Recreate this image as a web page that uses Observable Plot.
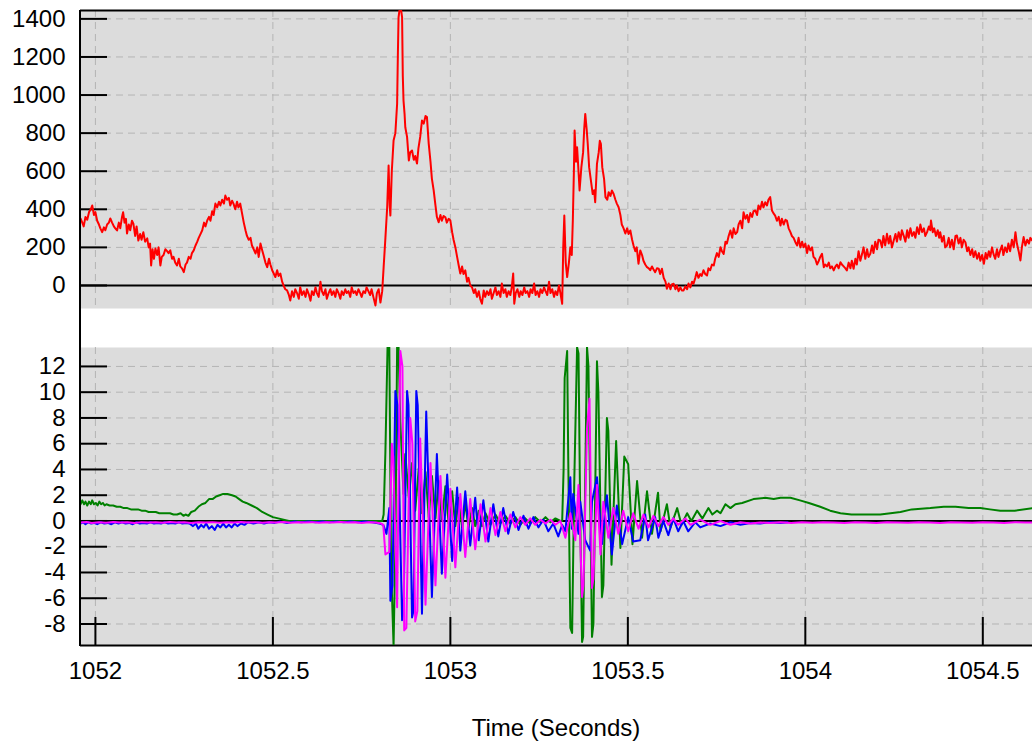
<!DOCTYPE html>
<html>
<head>
<meta charset="utf-8">
<script src="https://cdn.jsdelivr.net/npm/d3@7"></script>
<script src="https://cdn.jsdelivr.net/npm/@observablehq/plot@0.6"></script>
<style>
  body { margin: 0; background: #fff; }
  #wrap { position: relative; width: 1032px; height: 742px; font-family: "Liberation Sans", Arial, sans-serif; color: #000; }
  #top, #bottom { position: absolute; left: 0; }
  #top { top: 0; }
  #bottom { top: 337px; }
  #spine { position: absolute; left: 79px; top: 10px; width: 2px; height: 636px; background: #000; z-index: 5; }
  #xlabel { position: absolute; left: 80px; width: 952px; top: 716px; text-align: center; font-size: 24px; line-height: 1; }
</style>
</head>
<body>
<div id="wrap">
  <div id="top"></div>
  <div id="bottom"></div>
  <div id="spine"></div>
  <div id="xlabel">Time (Seconds)</div>
</div>
<script>
// ---- Tick labels / domains ----
const timeTicks = [1052, 1052.5, 1053, 1053.5, 1054, 1054.5];
const topTicks = [0, 200, 400, 600, 800, 1000, 1200, 1400];
const bottomTicks = [-8, -6, -4, -2, 0, 2, 4, 6, 8, 10, 12];
const timeDomain = [1051.958, 1054.64];
const topDomain = [-121, 1444];
const bottomDomain = [-9.67, 13.47];

// ---- Top series (red), [time, value] ----
const redSeries = [
[1051.958,352],[1051.963,330],[1051.967,310],[1051.972,360],[1051.977,345],[1051.982,385],[1051.987,400],[1051.991,420],[1051.996,370],[1052.000,385],
[1052.005,340],[1052.010,320],[1052.014,300],[1052.019,280],[1052.024,305],[1052.028,290],[1052.033,320],[1052.038,330],[1052.042,352],[1052.047,330],
[1052.052,310],[1052.056,300],[1052.061,289],[1052.066,330],[1052.070,300],[1052.075,360],[1052.078,385],[1052.082,330],[1052.086,350],[1052.089,273],
[1052.094,320],[1052.098,290],[1052.103,340],[1052.107,325],[1052.112,260],[1052.116,310],[1052.121,236],[1052.126,270],[1052.130,240],[1052.135,280],
[1052.140,230],[1052.146,247],[1052.150,200],[1052.154,220],[1052.157,105],[1052.161,190],[1052.165,140],[1052.169,194],[1052.174,160],[1052.178,200],
[1052.183,105],[1052.187,150],[1052.192,160],[1052.197,190],[1052.202,180],[1052.206,170],[1052.211,184],[1052.216,140],[1052.220,150],[1052.225,120],
[1052.230,105],[1052.235,140],[1052.239,100],[1052.244,90],[1052.249,70],[1052.254,110],[1052.258,120],[1052.263,150],[1052.268,140],[1052.272,170],
[1052.277,184],[1052.282,210],[1052.287,230],[1052.291,250],[1052.296,270],[1052.301,290],[1052.306,330],[1052.310,310],[1052.315,341],[1052.320,360],
[1052.324,340],[1052.329,390],[1052.333,370],[1052.338,430],[1052.343,410],[1052.348,440],[1052.352,420],[1052.357,450],[1052.362,430],[1052.366,472],
[1052.371,450],[1052.376,460],[1052.380,420],[1052.385,445],[1052.389,430],[1052.394,400],[1052.399,440],[1052.403,410],[1052.408,430],[1052.413,380],
[1052.418,330],[1052.423,289],[1052.427,260],[1052.432,240],[1052.437,250],[1052.441,210],[1052.446,190],[1052.451,168],[1052.456,200],[1052.460,150],
[1052.465,220],[1052.470,184],[1052.475,150],[1052.479,120],[1052.484,96],[1052.489,140],[1052.493,110],[1052.498,80],[1052.503,60],[1052.507,44],
[1052.512,80],[1052.516,50],[1052.521,63],[1052.526,20],[1052.530,0],[1052.535,-20],[1052.540,-26],[1052.545,-50],[1052.549,-79],[1052.554,-30],
[1052.559,-60],[1052.563,-20],[1052.568,-40],[1052.573,-70],[1052.577,-9],[1052.582,-50],[1052.587,-30],[1052.592,-60],[1052.596,-20],[1052.601,-45],
[1052.606,-80],[1052.610,-30],[1052.615,-50],[1052.620,-10],[1052.624,-40],[1052.629,-60],[1052.634,20],[1052.638,-30],[1052.643,-50],[1052.648,-20],
[1052.652,-70],[1052.657,-40],[1052.662,-20],[1052.666,-50],[1052.671,-30],[1052.676,-60],[1052.680,-20],[1052.685,-40],[1052.690,-70],[1052.694,-30],
[1052.699,-50],[1052.704,-20],[1052.708,-40],[1052.713,-30],[1052.718,-60],[1052.722,-10],[1052.727,-40],[1052.732,-30],[1052.736,-50],[1052.741,-20],
[1052.746,-40],[1052.750,-60],[1052.755,-30],[1052.760,-40],[1052.764,-10],[1052.769,-30],[1052.774,-50],[1052.778,-20],[1052.783,-60],[1052.789,-105],
[1052.793,-40],[1052.798,-20],[1052.803,-90],[1052.808,-30],[1052.812,96],[1052.817,250],[1052.822,411],[1052.826,630],[1052.829,420],[1052.831,367],
[1052.835,600],[1052.840,761],[1052.845,800],[1052.850,954],[1052.852,1200],[1052.854,1408],[1052.857,1450],[1052.859,1460],[1052.861,1450],[1052.864,1408],
[1052.866,1100],[1052.868,971],[1052.871,900],[1052.873,831],[1052.878,780],[1052.883,656],[1052.887,700],[1052.892,709],[1052.897,660],[1052.901,680],
[1052.906,640],[1052.910,720],[1052.915,780],[1052.920,866],[1052.925,850],[1052.930,890],[1052.934,884],[1052.939,745],[1052.944,650],[1052.948,560],
[1052.953,499],[1052.958,420],[1052.962,360],[1052.967,332],[1052.972,370],[1052.976,340],[1052.981,365],[1052.986,358],[1052.990,330],[1052.995,350],
[1053.000,341],[1053.005,280],[1053.009,240],[1053.014,201],[1053.019,150],[1053.023,110],[1053.028,63],[1053.033,100],[1053.037,60],[1053.042,79],
[1053.047,20],[1053.051,40],[1053.056,0],[1053.061,-9],[1053.066,-40],[1053.070,-20],[1053.075,-60],[1053.080,-30],[1053.084,-70],[1053.089,-96],
[1053.094,-26],[1053.098,-60],[1053.103,-30],[1053.108,-50],[1053.113,-20],[1053.117,-70],[1053.122,-40],[1053.127,-10],[1053.131,-50],[1053.136,-30],
[1053.141,-60],[1053.145,10],[1053.150,-40],[1053.155,-20],[1053.159,-60],[1053.164,-30],[1053.169,-50],[1053.173,-10],[1053.177,63],[1053.180,-96],
[1053.184,-40],[1053.189,-20],[1053.194,-60],[1053.198,-30],[1053.203,-50],[1053.208,-10],[1053.212,-40],[1053.217,-30],[1053.222,-60],[1053.226,-20],
[1053.231,-40],[1053.236,10],[1053.240,-50],[1053.245,-30],[1053.250,-60],[1053.254,-20],[1053.259,-40],[1053.264,-10],[1053.268,-30],[1053.273,-50],
[1053.278,20],[1053.282,-40],[1053.287,-20],[1053.292,-60],[1053.296,-30],[1053.301,-50],[1053.306,0],[1053.310,-40],[1053.315,-96],[1053.318,200],
[1053.321,367],[1053.325,120],[1053.329,44],[1053.334,120],[1053.338,201],[1053.342,160],[1053.345,341],[1053.348,600],[1053.350,814],[1053.354,650],
[1053.357,726],[1053.361,600],[1053.364,499],[1053.369,620],[1053.374,700],[1053.377,820],[1053.380,901],[1053.384,820],[1053.387,744],[1053.391,620],
[1053.396,551],[1053.401,480],[1053.405,500],[1053.408,437],[1053.413,639],[1053.418,700],[1053.421,760],[1053.424,744],[1053.428,620],[1053.433,560],
[1053.437,464],[1053.442,450],[1053.446,490],[1053.451,470],[1053.455,499],[1053.460,480],[1053.465,450],[1053.469,430],[1053.474,411],[1053.479,370],
[1053.483,320],[1053.488,300],[1053.493,273],[1053.498,300],[1053.502,270],[1053.507,289],[1053.512,240],[1053.516,210],[1053.521,180],[1053.525,200],
[1053.530,114],[1053.535,184],[1053.540,160],[1053.544,130],[1053.549,110],[1053.554,96],[1053.559,90],[1053.563,80],[1053.568,100],[1053.572,85],
[1053.577,70],[1053.582,90],[1053.587,88],[1053.591,60],[1053.596,88],[1053.601,40],[1053.606,20],[1053.610,-17],[1053.615,10],[1053.620,-20],
[1053.624,5],[1053.629,9],[1053.634,-20],[1053.638,0],[1053.643,-30],[1053.648,-10],[1053.652,-26],[1053.657,-26],[1053.662,-5],[1053.667,-20],
[1053.671,10],[1053.676,-10],[1053.681,20],[1053.685,9],[1053.690,40],[1053.694,70],[1053.699,40],[1053.704,60],[1053.708,50],[1053.713,80],
[1053.718,60],[1053.723,52],[1053.727,90],[1053.732,80],[1053.737,110],[1053.742,105],[1053.746,140],[1053.751,170],[1053.756,150],[1053.761,201],
[1053.765,180],[1053.770,166],[1053.775,230],[1053.779,220],[1053.784,260],[1053.789,289],[1053.794,250],[1053.798,300],[1053.803,270],[1053.808,280],
[1053.812,320],[1053.817,340],[1053.822,300],[1053.826,385],[1053.831,350],[1053.836,370],[1053.840,332],[1053.845,380],[1053.850,360],[1053.854,390],
[1053.859,394],[1053.864,370],[1053.868,420],[1053.873,400],[1053.878,440],[1053.882,410],[1053.887,437],[1053.892,420],[1053.896,450],[1053.901,464],
[1053.906,394],[1053.910,380],[1053.915,367],[1053.920,340],[1053.925,360],[1053.930,315],[1053.934,350],[1053.939,320],[1053.944,345],[1053.948,341],
[1053.953,300],[1053.958,280],[1053.962,260],[1053.967,250],[1053.972,227],[1053.977,210],[1053.981,250],[1053.986,200],[1053.991,230],[1053.995,201],
[1054.000,220],[1054.005,170],[1054.009,210],[1054.014,184],[1054.019,200],[1054.023,150],[1054.028,140],[1054.033,110],[1054.038,130],[1054.042,150],
[1054.047,166],[1054.052,96],[1054.056,110],[1054.061,100],[1054.066,120],[1054.070,90],[1054.075,100],[1054.080,79],[1054.085,100],[1054.089,110],
[1054.094,90],[1054.099,122],[1054.103,110],[1054.108,100],[1054.113,90],[1054.117,79],[1054.122,120],[1054.127,90],[1054.131,130],[1054.136,88],
[1054.141,140],[1054.145,110],[1054.150,180],[1054.155,130],[1054.160,166],[1054.164,200],[1054.169,140],[1054.174,190],[1054.178,150],[1054.183,166],
[1054.188,210],[1054.192,170],[1054.197,230],[1054.202,190],[1054.206,240],[1054.211,236],[1054.216,200],[1054.220,260],[1054.225,210],[1054.230,271],
[1054.235,220],[1054.239,260],[1054.244,200],[1054.249,236],[1054.254,270],[1054.258,230],[1054.263,280],[1054.268,240],[1054.272,290],[1054.277,262],
[1054.282,230],[1054.287,290],[1054.291,250],[1054.296,300],[1054.301,260],[1054.306,280],[1054.310,250],[1054.315,306],[1054.320,270],[1054.324,320],
[1054.329,280],[1054.334,300],[1054.338,260],[1054.343,280],[1054.348,310],[1054.352,290],[1054.354,341],[1054.359,280],[1054.363,300],[1054.368,260],
[1054.373,290],[1054.377,250],[1054.380,280],[1054.385,230],[1054.390,260],[1054.394,200],[1054.399,210],[1054.404,250],[1054.408,200],[1054.413,240],
[1054.418,190],[1054.423,260],[1054.427,262],[1054.432,220],[1054.437,250],[1054.441,200],[1054.446,240],[1054.451,227],[1054.456,180],[1054.460,200],
[1054.465,160],[1054.470,190],[1054.474,149],[1054.479,180],[1054.484,140],[1054.489,170],[1054.493,130],[1054.498,160],[1054.503,114],[1054.508,170],
[1054.512,140],[1054.517,180],[1054.521,150],[1054.526,200],[1054.530,166],[1054.535,140],[1054.540,190],[1054.544,150],[1054.549,184],[1054.554,210],
[1054.558,160],[1054.563,200],[1054.568,175],[1054.572,220],[1054.577,180],[1054.582,240],[1054.587,200],[1054.592,280],[1054.596,220],[1054.601,180],
[1054.606,131],[1054.610,200],[1054.615,254],[1054.620,210],[1054.625,240],[1054.630,220],[1054.634,250],[1054.639,236],[1054.644,240]
];

// ---- Bottom series, [time, value] ----
const greenSeries = [
[1051.958,1.3],[1051.963,1.6],[1051.968,1.3],[1051.972,1.5],[1051.977,1.2],[1051.982,1.5],[1051.987,1.3],[1051.991,1.6],[1051.996,1.3],[1052.001,1.4],
[1052.006,1.2],[1052.011,1.5],[1052.016,1.3],[1052.021,1.4],[1052.026,1.2],[1052.031,1.3],[1052.040,1.2],[1052.050,1.2],[1052.060,1.1],[1052.070,1.1],
[1052.080,1.0],[1052.090,1.0],[1052.100,0.9],[1052.110,0.9],[1052.120,0.9],[1052.130,0.8],[1052.140,0.8],[1052.150,0.7],[1052.160,0.7],[1052.170,0.7],
[1052.180,0.6],[1052.190,0.6],[1052.200,0.6],[1052.210,0.6],[1052.220,0.5],[1052.230,0.5],[1052.240,0.6],[1052.248,0.4],[1052.254,0.5],[1052.262,0.4],
[1052.270,0.7],[1052.280,0.8],[1052.290,1.1],[1052.300,1.3],[1052.310,1.4],[1052.320,1.7],[1052.330,1.7],[1052.340,1.9],[1052.350,2.0],[1052.360,2.1],
[1052.372,2.1],[1052.385,2.0],[1052.395,1.9],[1052.405,1.7],[1052.415,1.5],[1052.425,1.4],[1052.440,1.2],[1052.455,1.0],[1052.470,0.7],[1052.485,0.5],
[1052.500,0.3],[1052.515,0.2],[1052.530,0.1],[1052.545,0.0],[1052.600,0.0],[1052.650,0.0],[1052.700,0.0],[1052.750,0.0],[1052.808,0.0],[1052.812,0.5],
[1052.817,5.4],[1052.823,13.5],[1052.828,13.5],[1052.833,-3.6],[1052.840,-9.7],[1052.845,-2.0],[1052.850,13.5],[1052.854,13.5],[1052.859,7.7],[1052.868,2.1],
[1052.873,5.2],[1052.883,1.8],[1052.892,4.5],[1052.901,0.8],[1052.911,4.1],[1052.920,0.6],[1052.930,3.8],[1052.939,0.3],[1052.948,3.5],[1052.958,0.2],
[1052.967,3.1],[1052.976,0.1],[1052.986,2.7],[1052.995,-0.2],[1053.005,2.3],[1053.014,-0.4],[1053.023,1.8],[1053.033,-0.5],[1053.042,1.4],[1053.051,-0.5],
[1053.061,1.0],[1053.070,-0.4],[1053.080,0.8],[1053.089,-0.4],[1053.099,0.6],[1053.113,-0.3],[1053.127,0.5],[1053.141,-0.2],[1053.155,0.4],[1053.169,-0.2],
[1053.183,0.3],[1053.197,-0.3],[1053.211,0.2],[1053.225,-0.2],[1053.239,0.3],[1053.254,-0.1],[1053.268,0.3],[1053.282,-0.1],[1053.296,0.2],[1053.310,0.0],
[1053.315,0.0],[1053.319,4.0],[1053.322,11.1],[1053.329,13.2],[1053.332,5.0],[1053.338,-8.3],[1053.343,-8.7],[1053.349,3.0],[1053.357,13.5],[1053.361,13.0],
[1053.366,0.0],[1053.371,-9.4],[1053.374,-9.0],[1053.385,13.5],[1053.389,12.0],[1053.399,-9.0],[1053.403,-8.0],[1053.413,12.4],[1053.417,10.0],[1053.427,-5.9],
[1053.431,-5.0],[1053.441,8.0],[1053.445,7.0],[1053.454,-3.4],[1053.467,6.2],[1053.479,-2.1],[1053.490,5.0],[1053.501,4.4],[1053.513,-1.8],[1053.526,3.1],
[1053.540,-1.3],[1053.554,2.3],[1053.568,-1.0],[1053.585,2.2],[1053.592,-0.8],[1053.610,1.3],[1053.620,-0.5],[1053.639,1.0],[1053.651,-0.3],[1053.667,0.6],
[1053.679,0.0],[1053.695,0.8],[1053.710,0.2],[1053.727,1.0],[1053.738,0.5],[1053.751,0.8],[1053.761,0.6],[1053.775,1.3],[1053.789,1.0],[1053.803,1.3],
[1053.822,1.4],[1053.854,1.7],[1053.887,1.8],[1053.911,1.7],[1053.930,1.8],[1053.958,1.8],[1053.985,1.6],[1054.010,1.4],[1054.042,1.1],[1054.070,0.8],
[1054.099,0.6],[1054.130,0.5],[1054.160,0.5],[1054.211,0.5],[1054.240,0.6],[1054.268,0.7],[1054.300,0.9],[1054.352,1.0],[1054.390,1.1],[1054.423,1.1],
[1054.460,1.0],[1054.493,1.0],[1054.520,0.9],[1054.549,0.8],[1054.590,0.8],[1054.640,1.0]
];

const blueSeries = [
[1051.958,-0.2],[1051.965,-0.1],[1051.972,-0.25],[1051.980,-0.1],[1051.988,-0.2],[1051.996,-0.15],[1052.005,-0.25],[1052.015,-0.1],[1052.025,-0.2],[1052.035,-0.15],
[1052.045,-0.25],[1052.055,-0.1],[1052.065,-0.2],[1052.075,-0.1],[1052.085,-0.2],[1052.095,-0.15],[1052.105,-0.25],[1052.115,-0.1],[1052.125,-0.2],[1052.135,-0.15],
[1052.145,-0.2],[1052.155,-0.1],[1052.165,-0.2],[1052.175,-0.15],[1052.185,-0.2],[1052.195,-0.1],[1052.205,-0.2],[1052.215,-0.15],[1052.225,-0.2],[1052.235,-0.1],
[1052.245,-0.2],[1052.255,-0.15],[1052.265,-0.2],[1052.275,-0.4],[1052.283,-0.2],[1052.290,-0.6],[1052.298,-0.3],[1052.305,-0.5],[1052.312,-0.2],[1052.320,-0.6],
[1052.328,-0.4],[1052.336,-0.7],[1052.344,-0.3],[1052.352,-0.5],[1052.360,-0.2],[1052.368,-0.5],[1052.376,-0.3],[1052.384,-0.5],[1052.392,-0.2],[1052.400,-0.4],
[1052.410,-0.2],[1052.420,-0.3],[1052.430,-0.1],[1052.445,-0.2],[1052.460,-0.1],[1052.475,-0.2],[1052.490,-0.1],[1052.505,-0.15],[1052.520,-0.05],[1052.540,-0.15],
[1052.560,-0.05],[1052.580,-0.1],[1052.600,-0.05],[1052.620,-0.1],[1052.640,-0.05],[1052.660,-0.1],[1052.680,-0.05],[1052.700,-0.1],[1052.720,-0.05],[1052.740,-0.1],
[1052.760,-0.05],[1052.780,-0.1],[1052.800,-0.2],[1052.811,-0.3],[1052.820,-1.0],[1052.828,1.0],[1052.831,-6.2],[1052.837,-5.0],[1052.845,10.1],[1052.851,9.0],
[1052.864,-7.7],[1052.868,-7.0],[1052.878,10.1],[1052.882,9.0],[1052.892,-7.5],[1052.896,-7.0],[1052.904,10.1],[1052.908,9.0],[1052.920,-7.2],[1052.932,8.5],
[1052.948,-5.9],[1052.962,5.2],[1052.976,-4.1],[1052.991,3.6],[1053.005,-3.1],[1053.019,2.6],[1053.028,-2.3],[1053.042,2.3],[1053.056,-1.9],[1053.070,1.8],
[1053.080,-1.5],[1053.093,1.6],[1053.107,-1.6],[1053.121,1.3],[1053.135,-1.2],[1053.149,1.0],[1053.163,-1.0],[1053.177,0.7],[1053.192,-0.7],[1053.206,0.4],
[1053.220,-0.6],[1053.234,0.3],[1053.248,-0.5],[1053.262,0.1],[1053.276,-0.8],[1053.290,-0.2],[1053.304,-1.2],[1053.315,-0.3],[1053.324,-0.8],[1053.338,3.4],
[1053.342,-0.6],[1053.346,2.1],[1053.361,-1.0],[1053.366,1.5],[1053.380,-1.5],[1053.394,-2.3],[1053.399,1.5],[1053.413,3.4],[1053.427,-1.8],[1053.441,2.0],
[1053.455,-2.6],[1053.469,1.2],[1053.484,-1.8],[1053.501,0.3],[1053.515,-1.6],[1053.535,-1.5],[1053.549,0.5],[1053.557,-1.5],[1053.577,0.3],[1053.586,-1.3],
[1053.600,0.0],[1053.614,-1.1],[1053.628,0.2],[1053.642,-0.8],[1053.656,0.0],[1053.670,-0.8],[1053.690,-0.1],[1053.704,-0.5],[1053.732,-0.2],[1053.761,-0.4],
[1053.789,-0.1],[1053.817,-0.3],[1053.845,-0.15],[1053.873,-0.2],[1053.900,-0.1],[1053.930,-0.15],[1053.950,-0.1]
];

const magentaSeries = [
[1051.958,-0.12],[1051.975,-0.08],[1051.990,-0.15],[1052.010,-0.1],[1052.030,-0.14],[1052.050,-0.08],[1052.070,-0.12],[1052.090,-0.1],[1052.110,-0.15],[1052.130,-0.09],
[1052.150,-0.12],[1052.170,-0.1],[1052.190,-0.14],[1052.210,-0.08],[1052.230,-0.12],[1052.250,-0.1],[1052.270,-0.15],[1052.290,-0.1],[1052.310,-0.12],[1052.330,-0.09],
[1052.350,-0.14],[1052.370,-0.1],[1052.390,-0.12],[1052.410,-0.08],[1052.430,-0.12],[1052.450,-0.1],[1052.470,-0.14],[1052.490,-0.1],[1052.510,-0.12],[1052.530,-0.08],
[1052.550,-0.13],[1052.570,-0.1],[1052.590,-0.12],[1052.610,-0.09],[1052.630,-0.14],[1052.650,-0.1],[1052.670,-0.12],[1052.690,-0.08],[1052.710,-0.12],[1052.730,-0.1],
[1052.750,-0.15],[1052.770,-0.1],[1052.790,-0.12],[1052.805,-0.2],[1052.811,-0.3],[1052.817,-2.6],[1052.828,-2.4],[1052.835,6.0],[1052.839,5.0],[1052.850,-6.7],
[1052.854,3.0],[1052.859,13.2],[1052.865,12.0],[1052.870,-8.5],[1052.876,-8.3],[1052.887,8.0],[1052.893,6.0],[1052.901,-7.8],[1052.907,-7.0],[1052.915,6.4],
[1052.930,-6.5],[1052.944,4.5],[1052.958,-5.0],[1052.972,3.5],[1052.986,-4.4],[1053.000,2.5],[1053.014,-3.6],[1053.028,2.1],[1053.042,-2.8],[1053.056,1.7],
[1053.070,-2.2],[1053.085,1.3],[1053.099,-1.6],[1053.113,1.0],[1053.127,-1.1],[1053.141,0.7],[1053.155,-0.8],[1053.169,0.5],[1053.183,-0.5],[1053.197,0.3],
[1053.211,-0.3],[1053.225,0.2],[1053.239,-0.3],[1053.254,0.1],[1053.268,-0.2],[1053.282,0.1],[1053.296,-0.3],[1053.310,0.0],[1053.324,-1.3],[1053.338,0.6],
[1053.352,-1.5],[1053.361,2.8],[1053.371,-5.9],[1053.375,-5.0],[1053.385,7.2],[1053.392,9.5],[1053.399,-5.2],[1053.403,-4.5],[1053.413,2.8],[1053.423,-2.6],
[1053.431,1.5],[1053.445,-1.3],[1053.459,1.0],[1053.473,-1.0],[1053.487,0.8],[1053.501,-0.8],[1053.515,0.6],[1053.530,-0.6],[1053.544,0.5],[1053.558,-0.5],
[1053.572,0.4],[1053.586,-0.4],[1053.600,0.3],[1053.614,-0.3],[1053.628,0.2],[1053.642,-0.3],[1053.662,0.2],[1053.676,-0.3],[1053.704,0.1],[1053.732,-0.3],
[1053.761,0.0],[1053.789,-0.3],[1053.817,-0.1],[1053.845,-0.2],[1053.873,-0.12],[1053.900,-0.15],[1053.930,-0.1],[1053.960,-0.15],[1053.990,-0.1],[1054.020,-0.14],
[1054.050,-0.1],[1054.080,-0.12],[1054.110,-0.15],[1054.140,-0.1],[1054.170,-0.12],[1054.200,-0.15],[1054.230,-0.1],[1054.260,-0.12],[1054.290,-0.14],[1054.320,-0.1],
[1054.350,-0.12],[1054.380,-0.15],[1054.410,-0.1],[1054.440,-0.12],[1054.470,-0.14],[1054.500,-0.1],[1054.530,-0.12],[1054.560,-0.15],[1054.590,-0.1],[1054.620,-0.12],
[1054.644,-0.12]
];

// ---- Rendering ----
const W = 1032, ML = 80, MR = 0, innerW = W - ML - MR;
const PANEL_H = 298;
const gridStyle = {stroke: "#b4b4b4", strokeWidth: 1, strokeDasharray: "7,5"};
const blackLine = {stroke: "#000", strokeWidth: 2};
const fmt = d => String(d);
const baseStyle = {fontFamily: "'Liberation Sans', Arial, sans-serif", fontSize: "24px", color: "#000", background: "transparent", overflow: "visible"};

const topPlot = Plot.plot({
  width: W, height: 310, marginLeft: ML, marginRight: MR, marginTop: 10, marginBottom: 2,
  x: {domain: timeDomain, axis: null},
  y: {domain: topDomain, axis: null},
  style: baseStyle,
  marks: [
    Plot.frame({fill: "#dcdcdc", stroke: "none"}),
    Plot.ruleY(topTicks.filter(d => d !== 0), gridStyle),
    Plot.ruleX(timeTicks, gridStyle),
    Plot.ruleY([0], blackLine),
    Plot.ruleY([topDomain[1]], blackLine),
    Plot.tickY(topTicks, {y: d => d, insetRight: innerW - 27, ...blackLine}),
    Plot.line(redSeries, {x: d => d[0], y: d => d[1], stroke: "#ff0000", strokeWidth: 2, clip: true}),
    Plot.axisY(topTicks, {tickSize: 0, tickPadding: 15, tickFormat: fmt, label: null})
  ]
});
document.getElementById("top").appendChild(topPlot);

const bottomPlot = Plot.plot({
  width: W, height: 405, marginLeft: ML, marginRight: MR, marginTop: 10, marginBottom: 97,
  x: {domain: timeDomain, axis: null},
  y: {domain: bottomDomain, axis: null},
  style: baseStyle,
  marks: [
    Plot.frame({fill: "#dcdcdc", stroke: "none"}),
    Plot.ruleY(bottomTicks.filter(d => d !== 0), gridStyle),
    Plot.ruleX(timeTicks, gridStyle),
    Plot.ruleY([0], blackLine),
    Plot.ruleY([bottomDomain[0]], blackLine),
    Plot.tickY(bottomTicks, {y: d => d, insetRight: innerW - 27, ...blackLine}),
    Plot.tickX(timeTicks, {x: d => d, insetTop: PANEL_H - 28, ...blackLine}),
    Plot.line(greenSeries, {x: d => d[0], y: d => d[1], stroke: "#008000", strokeWidth: 2, clip: true}),
    Plot.line(blueSeries, {x: d => d[0], y: d => d[1], stroke: "#0000ff", strokeWidth: 2, clip: true}),
    Plot.line(magentaSeries, {x: d => d[0], y: d => d[1], stroke: "#ff00ff", strokeWidth: 2, clip: true}),
    Plot.axisY(bottomTicks, {tickSize: 0, tickPadding: 15, tickFormat: fmt, label: null}),
    Plot.axisX(timeTicks, {tickSize: 0, tickPadding: 16, tickFormat: fmt, label: null})
  ]
});
document.getElementById("bottom").appendChild(bottomPlot);
</script>
</body>
</html>
